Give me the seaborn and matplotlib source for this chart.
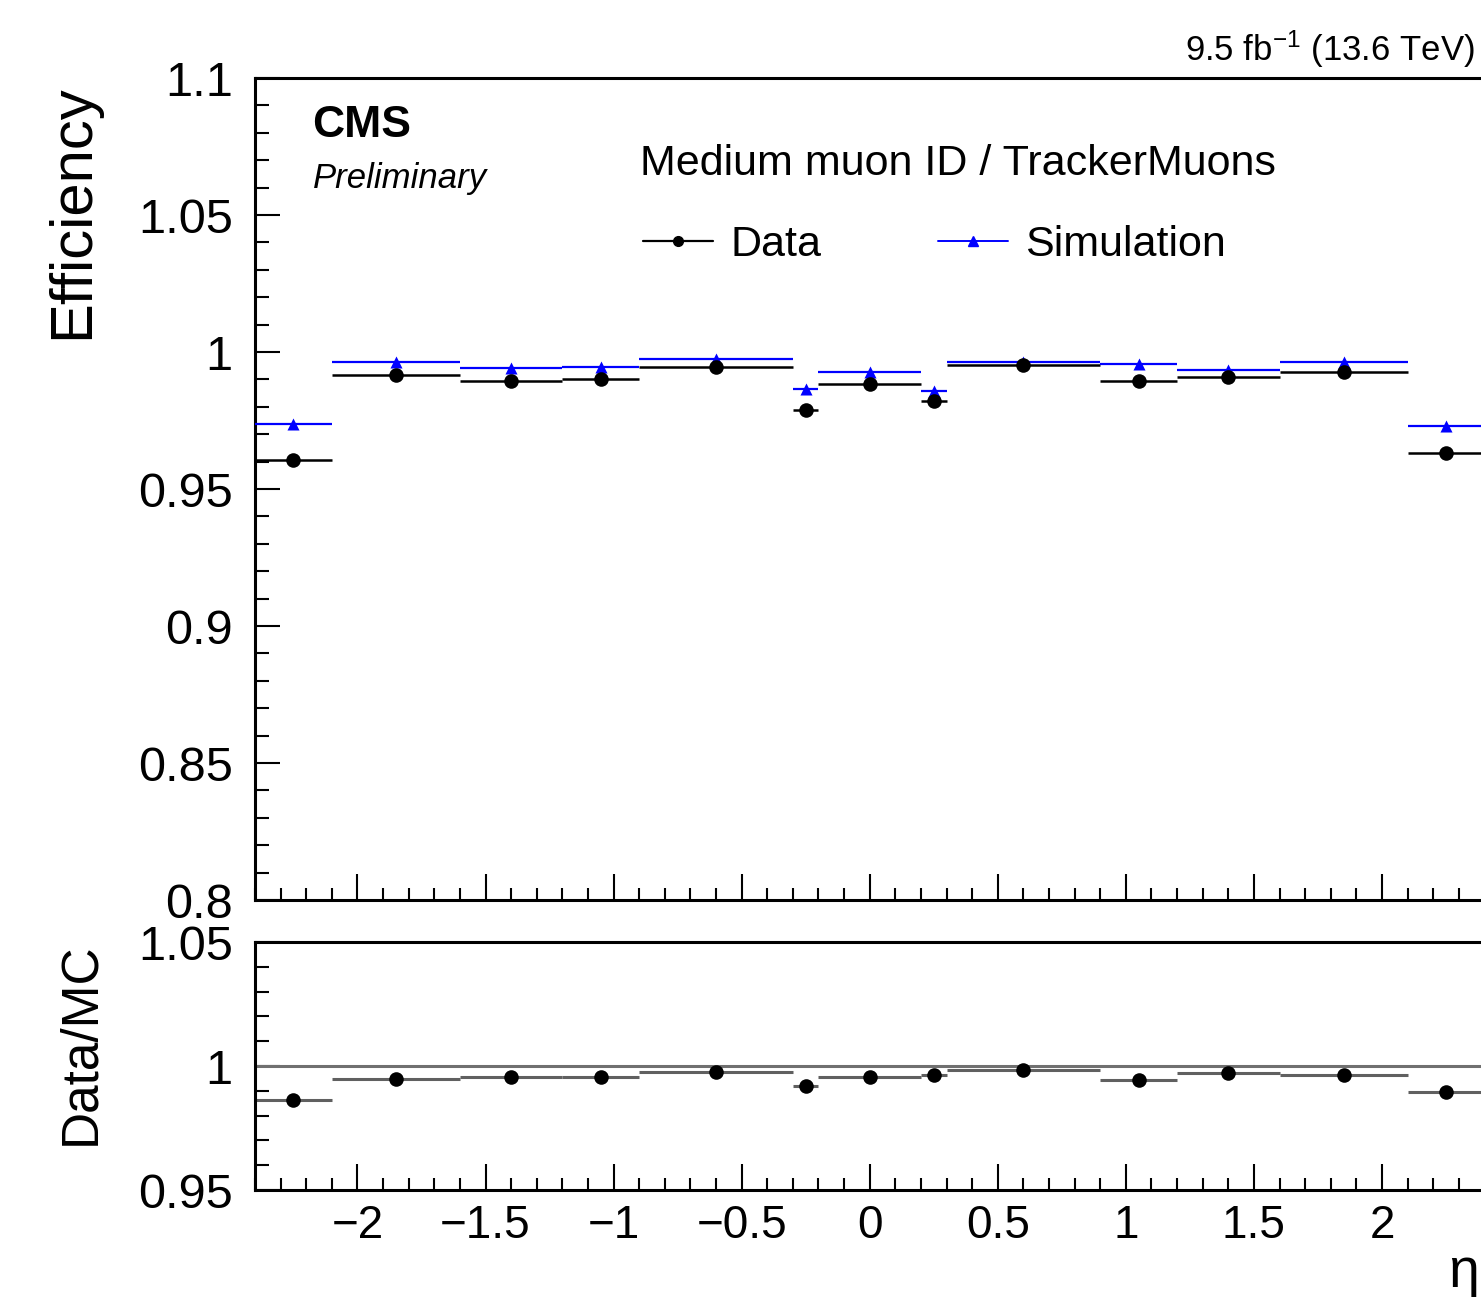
import numpy as np
import pandas as pd
import seaborn as sns
import matplotlib
matplotlib.use("Agg")
import matplotlib.pyplot as plt
from matplotlib.lines import Line2D
from matplotlib.ticker import MultipleLocator, FuncFormatter

# ---------------- data ----------------
eta_edges = [-2.4, -2.1, -1.6, -1.2, -0.9, -0.3, -0.2, 0.2, 0.3, 0.9, 1.2, 1.6, 2.1, 2.4]
eff_data = [0.9606, 0.9916, 0.9895, 0.9902, 0.9946, 0.9788, 0.9883, 0.9821, 0.9953,
            0.9895, 0.9910, 0.9928, 0.9630]
eff_sim = [0.9737, 0.9965, 0.9941, 0.9946, 0.9973, 0.9864, 0.9928, 0.9858, 0.9965,
           0.9955, 0.9934, 0.9965, 0.9731]
ratio = [0.9863, 0.9949, 0.9956, 0.9956, 0.9977, 0.9919, 0.9957, 0.9964, 0.9984,
         0.9942, 0.9972, 0.9965, 0.9894]
yticks_top = [0.8, 0.85, 0.9, 0.95, 1.0, 1.05, 1.1]
yticks_bot = [0.95, 1.0, 1.05]
xticks = [-2, -1.5, -1, -0.5, 0, 0.5, 1, 1.5, 2]

lo = eta_edges[:-1]
hi = eta_edges[1:]
centers = [(a + b) / 2 for a, b in zip(lo, hi)]
df = pd.DataFrame({"eta": centers, "lo": lo, "hi": hi,
                   "data": eff_data, "sim": eff_sim, "ratio": ratio})

# ---------------- style ----------------
sns.set_style("ticks")
plt.rcParams["font.family"] = ["Liberation Sans", "DejaVu Sans"]
plt.rcParams["mathtext.fontset"] = "custom"
plt.rcParams["mathtext.rm"] = "Liberation Sans"
plt.rcParams["mathtext.it"] = "Liberation Sans:italic"
for k in ["text.color", "axes.labelcolor", "xtick.color", "ytick.color", "axes.edgecolor"]:
    plt.rcParams[k] = "black"

W, H = 1481, 1297
fig = plt.figure(figsize=(W / 100, H / 100), dpi=100)

x_left, x_right = 255, 1484.4
def ax_rect(top, bottom):
    return [x_left / W, 1 - bottom / H, (x_right - x_left) / W, (bottom - top) / H]

ax = fig.add_axes(ax_rect(78, 900))
axr = fig.add_axes(ax_rect(942, 1190))

blue = "#0000ff"

# ---- top panel ----
ax.hlines(df["data"], df["lo"], df["hi"], color="black", lw=1.8, zorder=2)
ax.hlines(df["sim"], df["lo"], df["hi"], color=blue, lw=1.6, zorder=3)
sns.scatterplot(data=df, x="eta", y="sim", marker="^", s=75, color=blue,
                edgecolor=blue, linewidth=0, ax=ax, zorder=4)
sns.scatterplot(data=df, x="eta", y="data", marker="o", s=110, color="black",
                edgecolor="black", linewidth=0, ax=ax, zorder=5)

# ---- ratio panel ----
axr.axhline(1.0, color="#707070", lw=2.2, zorder=1)
axr.hlines(df["ratio"], df["lo"], df["hi"], color="#606060", lw=2.2, zorder=2)
sns.scatterplot(data=df, x="eta", y="ratio", marker="o", s=110, color="black",
                edgecolor="black", linewidth=0, ax=axr, zorder=5)

fmt = FuncFormatter(lambda v, p: ("%g" % round(v, 4)).replace("-", "\u2212"))

for a, yt, ylim in [(ax, yticks_top, (0.8, 1.1)), (axr, yticks_bot, (0.95, 1.05))]:
    a.set_xlim(-2.4, 2.4)
    a.set_ylim(*ylim)
    a.set_xlabel("")
    a.set_ylabel("")
    a.set_yticks(yt)
    a.yaxis.set_minor_locator(MultipleLocator(0.01))
    a.set_xticks(xticks)
    a.xaxis.set_minor_locator(MultipleLocator(0.1))
    a.yaxis.set_major_formatter(fmt)
    a.xaxis.set_major_formatter(fmt)
    for s in a.spines.values():
        s.set_linewidth(2.2)
        s.set_color("black")
    a.tick_params(axis="both", which="both", direction="in", width=1.5,
                  colors="black", top=False, right=False)
    a.tick_params(axis="y", which="major", length=18, pad=16, labelsize=35)
    a.tick_params(axis="y", which="minor", length=10)
    a.tick_params(axis="x", which="major", length=19, pad=10, labelsize=33)
    a.tick_params(axis="x", which="minor", length=9)

ax.tick_params(axis="x", labelbottom=False)

# ---- legend ----
handles = [
    Line2D([], [], color="black", lw=1.6, marker="o", markersize=7),
    Line2D([], [], color=blue, lw=1.4, marker="^", markersize=7),
]
ax.legend(handles, ["Data", "Simulation"], ncol=2, frameon=False, fontsize=31,
          loc="center left", bbox_to_anchor=(0.3156, 0.797), borderpad=0,
          borderaxespad=0, handlelength=1.63, handletextpad=0.4, columnspacing=2.7,
          labelcolor="black")

# ---- texts ----
ax.text(0.0464, 0.928, "CMS", transform=ax.transAxes, fontsize=32,
        fontweight="bold", ha="left", va="baseline", color="black")
ax.text(0.0472, 0.866, "Preliminary", transform=ax.transAxes, fontsize=25,
        fontstyle="italic", ha="left", va="baseline", color="black")
ax.text(0.3132, 0.882, "Medium muon ID / TrackerMuons", transform=ax.transAxes,
        fontsize=31, ha="left", va="baseline", color="black")

fig.text(1475 / W, 1 - 61 / H, r"9.5 fb$^{-1}$ (13.6 TeV)", fontsize=25,
         ha="right", va="baseline", color="black")
fig.text(73 / W, 1 - 84 / H, "Efficiency", fontsize=43, rotation=90,
         ha="center", va="top", color="black")
fig.text(81 / W, 1 - 942 / H, "Data/MC", fontsize=37, rotation=90,
         ha="center", va="top", color="black")
fig.text(1479 / W, 1 - 1287 / H, "\u03b7", fontsize=40, ha="right", va="baseline",
         color="black")

fig.savefig("out.png", dpi=100, facecolor="white")
